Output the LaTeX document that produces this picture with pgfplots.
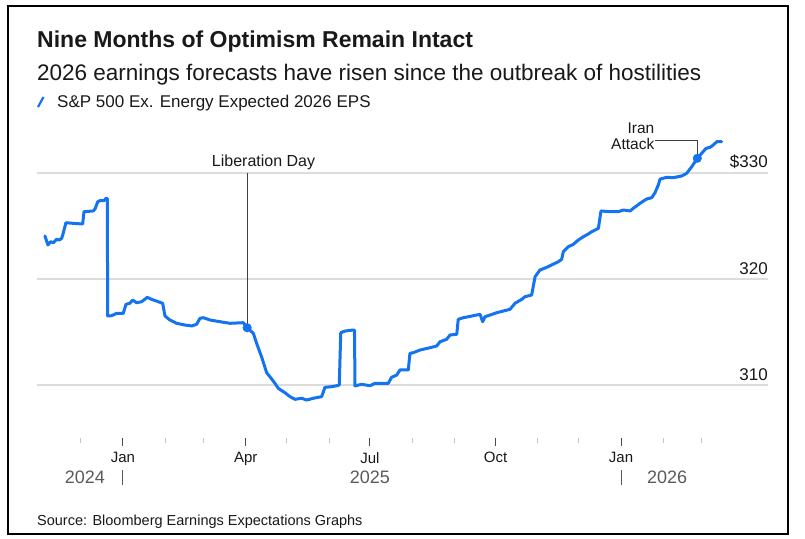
\documentclass[border=0pt]{standalone}
\usepackage{pgfplots}
\usepackage{pgfplotstable}
\pgfplotsset{compat=1.18}
\usepackage{fontspec}
\setmainfont{Liberation Sans}
\definecolor{lineblue}{RGB}{20,115,240}
\definecolor{gridgray}{RGB}{220,220,220}
\definecolor{yeargray}{RGB}{90,90,90}
\definecolor{txt}{RGB}{25,25,25}
\pgfplotstableread{
d v
-57.2 324.06
-55.0 323.21
-53.0 323.52
-51.1 323.42
-48.6 323.75
-46.7 323.68
-44.9 323.84
-43.8 324.31
-41.8 325.31
-36.4 325.25
-29.5 325.19
-28.6 326.35
-21.8 326.42
-20.5 326.60
-18.5 327.29
-16.9 327.39
-13.9 327.39
-12.5 327.61
-11.5 327.61
-11.2 316.51
-8.3 316.54
-4.6 316.76
0.2 316.76
2.2 317.61
5.1 317.71
7.1 318.02
10.0 317.76
13.7 317.86
17.8 318.27
21.0 318.08
25.9 317.86
29.1 317.71
30.8 316.51
34.4 316.13
39.4 315.82
45.4 315.66
50.4 315.57
54.0 315.73
56.4 316.29
58.9 316.35
63.8 316.13
71.1 315.97
78.4 315.82
88.2 315.88
91.0 315.40
95.5 314.88
98.4 313.77
101.7 312.61
105.3 311.16
107.7 310.78
111.4 310.16
113.8 309.69
118.7 309.27
122.4 308.90
126.1 308.65
131.0 308.75
134.6 308.58
139.5 308.75
145.6 308.90
148.0 309.78
152.9 309.84
156.6 309.93
158.5 310.00
159.6 314.93
162.7 315.09
168.8 315.19
169.7 315.15
170.0 309.91
174.9 310.07
181.0 309.93
184.7 310.16
190.8 310.16
194.4 310.16
196.9 310.73
200.6 310.94
203.0 311.42
209.1 311.42
210.3 312.99
212.8 313.05
217.7 313.30
225.0 313.52
229.9 313.68
232.3 314.08
237.2 314.31
239.7 314.72
244.6 314.78
245.7 316.20
249.4 316.35
253.1 316.44
261.7 316.67
263.6 315.97
265.3 316.44
273.9 316.82
283.6 317.14
287.3 317.71
292.2 318.08
294.6 318.33
299.5 318.49
302.0 320.22
305.6 320.85
310.5 321.10
319.0 321.63
321.5 321.86
322.7 322.58
326.4 323.05
330.0 323.27
333.7 323.68
337.4 323.99
341.0 324.25
343.5 324.46
348.4 324.78
350.3 326.42
356.9 326.35
363.0 326.35
366.7 326.51
371.6 326.42
374.0 326.67
378.9 327.14
383.8 327.55
387.5 327.67
389.9 328.14
392.3 328.87
393.6 329.43
398.5 329.59
403.3 329.56
409.5 329.72
413.1 329.97
416.8 330.59
420.9 331.39
424.1 331.86
427.3 332.33
430.2 332.42
432.6 332.64
435.1 332.95
438.7 332.95
}\epsdata
\begin{document}
\begin{tikzpicture}[x=1pt,y=1pt]
\useasboundingbox (0,0) rectangle (805,-538);
\fill[white] (0,0) rectangle (805,-538);
\draw[black, line width=2.5pt] (8,-6) rectangle (788,-534);
\node[anchor=base west, inner sep=0pt, font=\fontsize{23}{27}\selectfont\bfseries, text=txt] at (37,-47) {Nine Months of Optimism Remain Intact};
\node[anchor=base west, inner sep=0pt, font=\fontsize{22.5}{26}\selectfont, text=txt] at (37,-80) {2026 earnings forecasts have risen since the outbreak of hostilities};
\draw[lineblue, line width=2.2pt] (38,-107) -- (43.5,-97);
\node[anchor=base west, inner sep=0pt, font=\fontsize{17}{20}\selectfont, text=txt] at (57,-107) {S\&P 500 Ex. Energy Expected 2026 EPS};
\node[anchor=base west, inner sep=0pt, font=\fontsize{14.5}{17}\selectfont, text=txt] at (37,-525) {Source: Bloomberg Earnings Expectations Graphs};
\begin{axis}[
  at={(37pt,-438pt)}, anchor=south west,
  scale only axis, width=731pt, height=318pt,
  xmin=-63, xmax=472.7, ymin=305, ymax=335,
  clip=false,
  axis line style={draw=none},
  ytick={310,320,330}, yticklabels={310,320,\$330},
  yticklabel pos=right,
  ymajorgrids, grid style={gridgray, line width=1.3pt},
  ytick style={draw=none},
  yticklabel style={anchor=south east, inner sep=0pt, font=\fontsize{17}{20}\selectfont, text=txt, xshift=-8pt, yshift=4pt},
  xtick={0,90,181,273,365}, xticklabels={Jan,Apr,Jul,Oct,Jan},
  minor xtick={-31,31,59,120,151,212,243,304,334,396,424},
  xtick pos=bottom, tick align=outside,
  major tick length=8pt, minor tick length=5pt,
  xtick style={black!70, line width=1pt},
  minor x tick style={gray!45, line width=1pt},
  xticklabel style={font=\fontsize{15}{18}\selectfont, text=txt, inner sep=0pt, yshift=-6pt},
]
\addplot[lineblue, line width=3pt, line join=round, line cap=round] table[x=d,y=v] {\epsdata};
\draw[black!75, line width=1pt] (axis cs:91,315.4) -- (axis cs:91,330.0);
\draw[black!75, line width=1pt] (axis cs:420.9,331.39) -- (axis cs:420.9,333.11) -- (axis cs:389.9,333.11);
\addplot[only marks, mark=*, mark size=4.3pt, lineblue] coordinates {(91,315.4) (420.9,331.39)};
\node[anchor=base, inner sep=0pt, font=\fontsize{16}{18}\selectfont, text=txt] at (axis cs:103,330.66) {Liberation Day};
\node[anchor=east, align=right, inner sep=0pt, font=\fontsize{15.5}{16}\selectfont, text=txt] at (axis cs:389.5,333.5) {Iran\\Attack};
\node[font=\fontsize{18}{20}\selectfont, text=yeargray] at (axis cs:-27.9,301.32) {2024};
\node[font=\fontsize{18}{20}\selectfont, text=yeargray] at (axis cs:181,301.32) {2025};
\node[font=\fontsize{18}{20}\selectfont, text=yeargray] at (axis cs:398.7,301.32) {2026};
\draw[yeargray, line width=1pt] (axis cs:0,301.98) -- (axis cs:0,300.57);
\draw[yeargray, line width=1pt] (axis cs:365,301.98) -- (axis cs:365,300.57);
\end{axis}
\end{tikzpicture}
\end{document}
